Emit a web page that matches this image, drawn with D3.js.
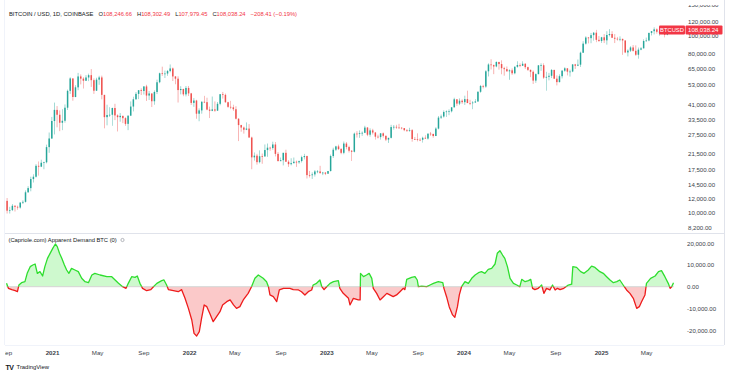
<!DOCTYPE html>
<html><head><meta charset="utf-8">
<script src="https://cdn.jsdelivr.net/npm/d3@7"></script>
<style>
body{margin:0;background:#fff;}
svg{display:block;font-family:"Liberation Sans",Arial,sans-serif;}
</style>
</head><body>
<svg id="chart" width="734" height="376"></svg>
<script>
// ---------- DATA ----------
// Weekly BTC/USD candles (week starting Monday), first week starts 2020-08-31
const firstWeekStart = "2020-08-31";
const firstOpen = 11650;
const weeklyClose = [
 10250,10330,10930,10780,10680,11380,11500,13030,13760,15480,15960,18400,18200,19150,19270,23480,26280,
 33000,38150,35800,32260,33100,39250,48900,57490,45140,51200,59000,57350,55800,58200,60000,56200,49000,56600,58240,46400,34700,35700,35800,39100,35500,34700,35300,34250,31800,35400,39850,43800,47000,49300,48800,51800,46000,47250,42700,48200,54700,61500,61000,61300,63300,65500,59000,57300,49400,50100,46700,50800,47300,
 41800,43100,36300,37900,42400,42200,38300,37700,38400,37800,41300,46800,46400,42150,39700,39450,38470,34000,31300,30300,29450,29900,26600,20550,21000,19300,20850,20800,22600,23300,23200,24300,21500,19550,19800,21800,19400,18800,19050,19400,19260,19570,20600,20900,16300,16280,16450,17100,17100,16740,16840,16600,
 17180,20900,22700,23700,22900,21800,24600,23500,22400,22100,28000,27900,28200,28300,30300,27600,29200,28400,26900,26750,28100,27200,25900,26500,30500,30600,30300,30250,30080,29300,29050,29300,26100,26000,25850,25840,26530,26250,27990,27900,27150,29900,34500,35000,37100,37400,37450,39450,43800,41400,43000,42200,
 43900,41700,41600,42000,42600,48300,52100,51700,63100,68950,68400,67200,71300,69350,65700,64900,63100,63900,61500,66900,68500,67800,69600,66600,64300,62700,55900,60800,68200,68300,58100,58700,59500,64200,57300,54800,59200,63600,65600,62800,62900,69000,67900,68800,80400,90500,98000,97200,101100,104400,95100,93700,
 98300,94500,101300,102600,97700,96500,96100,96300,94300,80700,82600,86100,82400,78300,83700,85100,93700,94300,104100,106500,109000,105600,105700,105500,101500,107100,109200,108038.24
];
const weeklyHigh = [
 12090,10780,11180,10990,10950,11480,11730,13350,14100,15960,16480,18800,19480,19920,19410,24250,28400,
 34800,41950,40100,37900,38500,40950,49700,58350,57500,52600,61800,60600,58400,60000,61200,64900,57500,58000,59500,59600,45800,40800,39500,39300,41300,36000,36600,35300,34650,35400,42600,45300,48150,49400,50500,51900,52900,48800,47300,49200,56600,62000,67000,63700,64200,69000,66300,59300,59100,51950,50300,52100,52100,
 47600,44500,43500,38900,42700,45800,44700,39800,45400,42600,42300,46900,48200,47200,42400,42900,40800,40000,34200,31400,30700,32400,31700,26900,21900,21500,22500,21600,24300,24600,23600,25200,25100,22000,20500,21800,22700,19800,20300,20500,19700,19700,21000,21500,21000,17200,16900,17400,17400,18400,17000,16950,
 17200,21300,23300,23900,24250,23200,25250,25100,23900,22600,28400,28900,29200,28800,31000,30500,30000,29800,28600,27600,28200,28400,27300,26500,31400,31300,31400,31800,30400,30000,29700,30200,29700,26800,28100,26400,26900,27400,28000,28600,27900,30400,35200,35900,37900,37900,38400,39500,44700,43400,44300,43800,
 45900,49000,43500,42800,43900,48600,52800,52900,64000,70000,73800,68900,71700,71300,72800,66900,67200,64700,65500,67400,71900,70000,71900,70100,67000,64500,63800,61400,68400,70000,70000,62700,61800,65000,64500,59800,60600,64100,66500,65600,64500,69400,69500,73600,81500,93400,99600,98700,104000,105200,108300,99900,
 98900,102500,106400,109300,106400,102500,98800,99500,96500,94400,84000,87400,88800,88500,86000,86500,95800,97900,104300,106000,111900,110400,106800,110500,108900,108500,110500,109700
];
const weeklyLow = [
 9880,9880,10200,10140,10380,10530,11180,11400,12950,13200,14800,15800,16200,18100,17600,19000,21800,
 26100,27700,30400,28900,29300,32300,38100,47000,43000,45000,49300,53200,50400,55600,55500,51500,47000,48800,52900,43800,30000,31200,34800,31000,33400,28800,32700,32100,31000,29300,35200,37400,43600,43900,46300,46600,42900,43400,39600,40800,46900,54000,59500,57800,59500,62300,55600,53300,42000,46700,45600,45500,45700,
 40700,39700,34000,32900,36300,41700,38000,34300,37500,37200,37600,40500,44200,41900,39200,38500,37600,33700,25400,28700,28000,29300,26600,17600,19700,18700,19000,18900,20700,20700,22400,22700,20800,19550,19550,18500,19400,18150,18500,19000,18150,18900,19200,20000,15600,15800,15500,16000,16700,16600,16300,16300,
 16600,17100,20400,22300,22600,21400,21400,22800,21900,19600,21900,26600,26500,27200,28200,27100,26900,27700,25900,26300,25900,26600,25400,24800,26300,29500,29800,29900,29600,28900,28600,28700,25200,25800,25300,25400,24900,26100,25900,27200,26550,27100,29600,33900,34500,34800,35600,36900,39400,40200,40600,41300,
 40700,41700,40600,38500,41800,42300,47700,50500,50900,59000,64600,60800,66500,64500,60700,59600,62800,56500,60200,60700,66100,66600,68500,65100,63400,58500,53500,54300,60700,63500,57100,49000,56100,57800,57200,52500,54600,57500,62700,59800,58900,62400,65100,67500,66800,80200,89400,90800,91000,94100,92200,92600,
 91400,91200,89300,99500,97600,91200,94100,93400,78200,80000,76600,81200,81600,77200,74400,83100,85100,92800,93400,100700,102100,103100,100400,103400,98200,100900,105100,107500
];
const priceTicks = [150000,120000,100000,80000,65000,53000,41000,33500,27500,21500,17500,14500,12000,10000,8200];

// Capriole "Apparent Demand BTC" indicator: day offset from 2021-01-01 and value
const indicatorBase = "2021-01-01";
const indicatorDay = [
 -121,-116,-107,-98,-92,-88,-81,-72,-66,-58,-51,-45,-39,-32,-25,-19,-12,-5,
 2,9,14,20,26,33,39,45,52,61,70,79,88,97,106,114,128,146,159,168,177,188,197,203,212,221,227,234,241,252,263,270,279,292,298,305,310,323,336,345,354,363,
 372,378,385,392,398,405,412,420,429,438,447,454,465,474,483,491,500,509,522,531,540,549,562,571,576,580,589,598,605,616,633,642,656,664,673,682,691,695,704,713,718,724,
 731,740,749,762,766,775,789,793,802,815,820,821,829,837,844,851,855,864,873,882,891,899,908,917,926,935,939,944,957,966,972,975,984,997,1006,1015,1028,1040,1043,1050,1057,1066,1072,1079,1084,
 1090,1099,1108,1117,1126,1135,1143,1152,1161,1170,1179,1185,1192,1199,1205,1212,1219,1228,1237,1245,1250,1259,1268,1274,1279,1285,1294,1303,1309,1316,1325,1332,1339,1345,1352,1362,1374,1383,1386,1396,1407,1416,1427,1436,1445,1458,
 1467,1476,1485,1494,1503,1511,1520,1529,1538,1547,1556,1563,1569,1578,1582,1593,1605,1614,1622,1631,1640,1645,1649,1654
];
const indicatorValue = [
 1550,-750,-1370,-1840,-2300,780,1860,2320,6160,9230,10000,10460,6160,6930,4930,9230,13070,15380,
 17680,19680,18450,15380,13070,10000,7700,6160,8460,7700,6930,3860,2320,1860,5390,6160,5390,4620,4620,3090,1550,0,-750,1550,4620,4320,4930,1550,-750,-1840,-1370,0,1550,2780,3090,780,-1370,-1840,-2300,-1370,-5360,-9970,
 -15350,-21490,-22720,-20700,-14600,-8400,-9200,-12300,-16100,-13800,-11500,-8400,-6900,-6100,-8400,-9970,-9200,-6100,-3060,0,3860,5390,3860,2320,0,-3800,-4600,-6900,-1500,-750,-750,-1370,-1500,-2300,-3800,-2300,-1500,780,1550,3090,0,-1370,
 0,1550,2320,2780,-750,-3060,-5360,-8400,-5360,-6100,-6100,6160,4620,5390,6160,3860,-750,-3060,-6100,-4600,-3060,-3800,-4600,-3800,-2300,-750,-1370,3400,4320,4620,3090,0,300,0,780,1550,2320,1860,-750,-4600,-9200,-13000,-14100,-9200,-3800,
 0,2320,1550,3860,5390,6470,6930,6160,8000,8460,10460,15380,16600,14600,13070,9230,3860,1550,780,0,3400,2320,2780,3400,-750,-1370,-750,780,-3060,-750,-1500,780,-1500,-750,-1370,-750,780,1200,9230,8900,6930,6160,7700,9500,8900,6930,
 6160,4620,3090,1860,2320,3090,780,-1500,-3060,-5360,-9970,-9200,-6900,-3800,1550,3860,4930,6930,7400,4620,1550,-750,0,1860
];
const indicatorTicks = [20000,10000,0,-10000,-20000];

const timeTickDates = ["2020-09-01","2021-01-01","2021-05-01","2021-09-01","2022-01-01","2022-05-01","2022-09-01","2023-01-01","2023-05-01","2023-09-01","2024-01-01","2024-05-01","2024-09-01","2025-01-01","2025-05-01"];
const timeTickLabels = ["Sep","2021","May","Sep","2022","May","Sep","2023","May","Sep","2024","May","Sep","2025","May"];

const header = {symbol:"BITCOIN / USD, 1D, COINBASE", o:"108,246.66", h:"108,302.49", l:"107,979.45", c:"108,038.24", chg:"\u2212208.41 (\u22120.19%)"};
const indicatorTitle = "(Capriole.com) Apparent Demand BTC (0)";
const lastPrice = 108038.24;

// ---------- LAYOUT ----------
const W = 734, H = 376;
const plotL = 5, plotR = 685, axisR = 724;
const mainTop = 0, mainBot = 233;
const indTop = 234, indBot = 345;
const UP = "#26a69a", DOWN = "#ef5350";
const GREEN = "#2ede2e", RED = "#ee1c1c";

const svg = d3.select("#chart");
const parse = d3.utcParse("%Y-%m-%d");

const x = d3.scaleUtc().domain([parse("2021-01-01"), parse("2025-01-01")]).range([52, 601]);
const yP = d3.scaleLog().domain([8200, 120000]).range([227.8, 22]);
const yI = d3.scaleLinear().domain([-20000, 20000]).range([330.1, 243.3]);

const defs = svg.append("defs");
defs.append("clipPath").attr("id","clipMain").append("rect").attr("x",plotL).attr("y",mainTop).attr("width",plotR-plotL).attr("height",mainBot-mainTop);
defs.append("clipPath").attr("id","clipInd").append("rect").attr("x",plotL).attr("y",indTop).attr("width",plotR-plotL).attr("height",indBot-indTop);
defs.append("clipPath").attr("id","clipPos").append("rect").attr("x",plotL).attr("y",indTop).attr("width",plotR-plotL).attr("height",yI(0)-indTop);
defs.append("clipPath").attr("id","clipNeg").append("rect").attr("x",plotL).attr("y",yI(0)).attr("width",plotR-plotL).attr("height",indBot-yI(0));
defs.append("clipPath").attr("id","clipTime").append("rect").attr("x",plotL).attr("y",indBot).attr("width",axisR-plotL).attr("height",20);
defs.append("clipPath").attr("id","clipPScale").append("rect").attr("x",plotR).attr("y",5).attr("width",axisR-plotR).attr("height",mainBot-5);

// borders / separators
const sep = "#e0e3eb";
svg.append("line").attr("x1",plotL).attr("x2",axisR).attr("y1",mainBot+0.5).attr("y2",mainBot+0.5).attr("stroke",sep).attr("stroke-width",1);
svg.append("line").attr("x1",axisR+0.5).attr("x2",axisR+0.5).attr("y1",0).attr("y2",indBot).attr("stroke",sep).attr("stroke-width",1);
svg.append("line").attr("x1",plotL-0.5).attr("x2",plotL-0.5).attr("y1",0).attr("y2",indBot).attr("stroke","#f0f3fa").attr("stroke-width",1);
svg.append("line").attr("x1",plotL).attr("x2",axisR).attr("y1",indBot+0.5).attr("y2",indBot+0.5).attr("stroke","#f0f3fa").attr("stroke-width",1);

// ---------- CANDLES ----------
const start = parse(firstWeekStart);
const candles = weeklyClose.map((c,i)=>{
  const o = i===0 ? firstOpen : weeklyClose[i-1];
  const d0 = d3.utcDay.offset(start, 7*i);
  const mid = new Date(d0.getTime() + 3.5*864e5);
  return {mid, o, c, h: Math.max(weeklyHigh[i], o, c), l: Math.min(weeklyLow[i], o, c)};
});
const gC = svg.append("g").attr("clip-path","url(#clipMain)");
const cg = gC.selectAll("g.cd").data(candles).join("g").attr("class","cd");
cg.append("line")
  .attr("x1",d=>x(d.mid)).attr("x2",d=>x(d.mid))
  .attr("y1",d=>yP(d.h)).attr("y2",d=>yP(d.l))
  .attr("stroke",d=>d.c>=d.o?UP:DOWN).attr("stroke-width",0.6).attr("opacity",0.75);
cg.append("rect")
  .attr("x",d=>x(d.mid)-0.75).attr("width",1.5)
  .attr("y",d=>yP(Math.max(d.o,d.c)))
  .attr("height",d=>Math.max(0.7, yP(Math.min(d.o,d.c))-yP(Math.max(d.o,d.c))))
  .attr("fill",d=>d.c>=d.o?UP:DOWN);

// ---------- PRICE SCALE ----------
const pAxis = svg.append("g").attr("clip-path","url(#clipPScale)")
  .append("g").attr("transform",`translate(${plotR+1},0)`)
  .call(d3.axisRight(yP).tickValues(priceTicks).tickSize(0).tickPadding(2).tickFormat(d3.format(",.2f")));
pAxis.select(".domain").remove();
pAxis.selectAll("text").attr("font-size",6.1).attr("fill","#3b3f4a").attr("font-family","'Liberation Sans',Arial,sans-serif");

// last price label
const lpY = yP(lastPrice);
svg.append("rect").attr("x",659).attr("y",lpY-4.5).attr("width",26).attr("height",9).attr("rx",1).attr("fill","#f23645");
svg.append("text").attr("x",672).attr("y",lpY).attr("dy","0.35em").attr("text-anchor","middle").attr("font-size",5.8).attr("fill","#fff").text("BTCUSD");
svg.append("rect").attr("x",685.5).attr("y",lpY-4.5).attr("width",37).attr("height",9).attr("rx",1).attr("fill","#f23645");
svg.append("text").attr("x",688).attr("y",lpY).attr("dy","0.35em").attr("font-size",6.1).attr("fill","#fff").text(d3.format(",.2f")(lastPrice));

// ---------- INDICATOR ----------
const ibase = parse(indicatorBase);
const ind = indicatorDay.map((d,i)=>({date: d3.utcDay.offset(ibase, d), v: indicatorValue[i]}));
const gI = svg.append("g").attr("clip-path","url(#clipInd)");
const area = d3.area().x(d=>x(d.date)).y0(yI(0)).y1(d=>yI(d.v));
const line = d3.line().x(d=>x(d.date)).y(d=>yI(d.v));
gI.append("path").datum(ind).attr("d",area).attr("fill","rgba(60,230,60,0.25)").attr("clip-path","url(#clipPos)");
gI.append("path").datum(ind).attr("d",area).attr("fill","rgba(240,40,40,0.25)").attr("clip-path","url(#clipNeg)");
gI.append("line").attr("x1",x(ind[0].date)).attr("x2",x(ind[ind.length-1].date)).attr("y1",yI(0)).attr("y2",yI(0)).attr("stroke","#d6d6d6").attr("stroke-width",1);
gI.append("path").datum(ind).attr("d",line).attr("fill","none").attr("stroke",GREEN).attr("stroke-width",1.3).attr("stroke-linejoin","round").attr("clip-path","url(#clipPos)");
gI.append("path").datum(ind).attr("d",line).attr("fill","none").attr("stroke",RED).attr("stroke-width",1.3).attr("stroke-linejoin","round").attr("clip-path","url(#clipNeg)");

const iAxis = svg.append("g").attr("transform",`translate(${plotR+1},0)`)
  .call(d3.axisRight(yI).tickValues(indicatorTicks).tickSize(0).tickPadding(1).tickFormat(d=>d3.format(",.2f")(d).replace("\u2212","-")));
iAxis.select(".domain").remove();
iAxis.selectAll("text").attr("font-size",6.1).attr("fill","#3b3f4a").attr("font-family","'Liberation Sans',Arial,sans-serif");

// ---------- TIME AXIS ----------
const tDates = timeTickDates.map(parse);
const tAxis = svg.append("g").attr("clip-path","url(#clipTime)")
  .append("g").attr("transform",`translate(0,${indBot+4})`)
  .call(d3.axisBottom(x).tickValues(tDates).tickSize(0).tickPadding(2).tickFormat((d,i)=>timeTickLabels[i]));
tAxis.select(".domain").remove();
tAxis.selectAll("text").attr("font-size",6.2).attr("fill","#3b3f4a")
  .attr("font-family","'Liberation Sans',Arial,sans-serif")
  .attr("font-weight",(d,i)=>/^\d{4}$/.test(timeTickLabels[i])?"bold":"normal");

// ---------- TEXTS ----------
const ht = svg.append("text").attr("x",9).attr("y",15.5).attr("font-size",5.8).attr("fill","#131722");
ht.append("tspan").text(header.symbol);
[["O",header.o],["H",header.h],["L",header.l],["C",header.c]].forEach(([k,v])=>{
  ht.append("tspan").attr("dx",5).text(k);
  ht.append("tspan").attr("fill","#f23645").text(v);
});
ht.append("tspan").attr("dx",5).attr("fill","#f23645").text(header.chg);

svg.append("text").attr("x",8.5).attr("y",242).attr("font-size",5.8).attr("fill","#131722").text(indicatorTitle);
svg.append("circle").attr("cx",122.5).attr("cy",240).attr("r",1.6).attr("fill","none").attr("stroke","#9598a1").attr("stroke-width",0.7);

// TradingView logo
svg.append("text").attr("x",5.5).attr("y",369.5).attr("font-size",7).attr("font-weight","bold").attr("fill","#131722").attr("letter-spacing",-0.6).text("TV");
svg.append("text").attr("x",16.5).attr("y",369).attr("font-size",5.9).attr("fill","#131722").text("TradingView");
</script>
</body></html>
